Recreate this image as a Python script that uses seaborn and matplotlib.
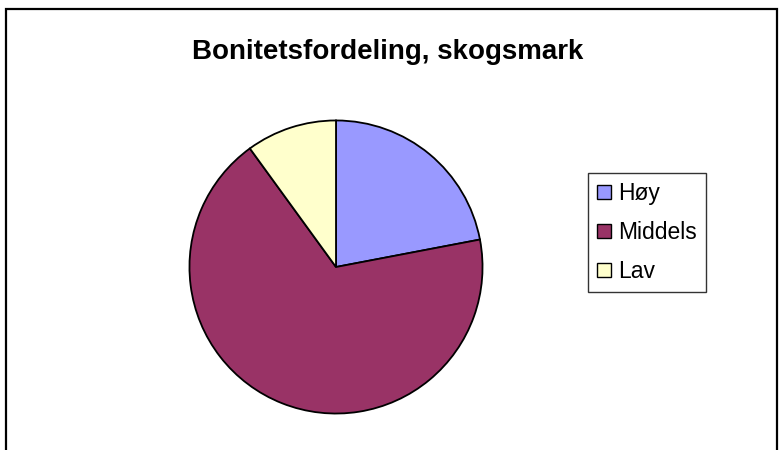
import seaborn as sns
import matplotlib.pyplot as plt
from matplotlib.patches import Rectangle

# data (percent of forest land)
labels = ["Høy", "Middels", "Lav"]
shares = [22, 68, 10]
colors = ["#9999FF", "#993366", "#FFFFCC"]

sns.set_theme(style="white", rc={"text.color": "black"})
plt.rcParams['font.family'] = ['Liberation Sans', 'DejaVu Sans']

fig = plt.figure(figsize=(7.83, 4.5), dpi=100)

# chart area frame (bottom edge is cut off in the original)
fig.patches.append(Rectangle((6 / 783, -0.1), 771 / 783, 1.1 - 9 / 450,
                             transform=fig.transFigure, fill=False,
                             edgecolor="black", linewidth=1.6))

ax = fig.add_axes([188 / 783, 35 / 450, 296 / 783, 296 / 450])
wedges, _ = ax.pie(shares, colors=colors, startangle=90, counterclock=False,
                   wedgeprops=dict(edgecolor="black", linewidth=1.3))
ax.set_xlim(-1.01, 1.01)
ax.set_ylim(-1.01, 1.01)
ax.set_aspect("equal")

fig.text(388 / 783, 1 - 52 / 450, "Bonitetsfordeling, skogsmark",
         ha="center", va="center", fontsize=20, fontweight="bold",
         color="black")

leg = fig.legend(wedges, labels, loc="upper left",
                 bbox_to_anchor=(588 / 783, 1 - 173 / 450),
                 fontsize=16.5, frameon=True, fancybox=False,
                 handlelength=0.6, handleheight=0.6, handletextpad=0.3,
                 labelspacing=0.7, borderpad=0.4, borderaxespad=0)
leg.get_frame().set_edgecolor("black")
leg.get_frame().set_linewidth(1.0)
for h in leg.legend_handles:
    h.set_linewidth(1.0)
for t in leg.get_texts():
    t.set_color("black")

fig.savefig("out.png", dpi=100)
